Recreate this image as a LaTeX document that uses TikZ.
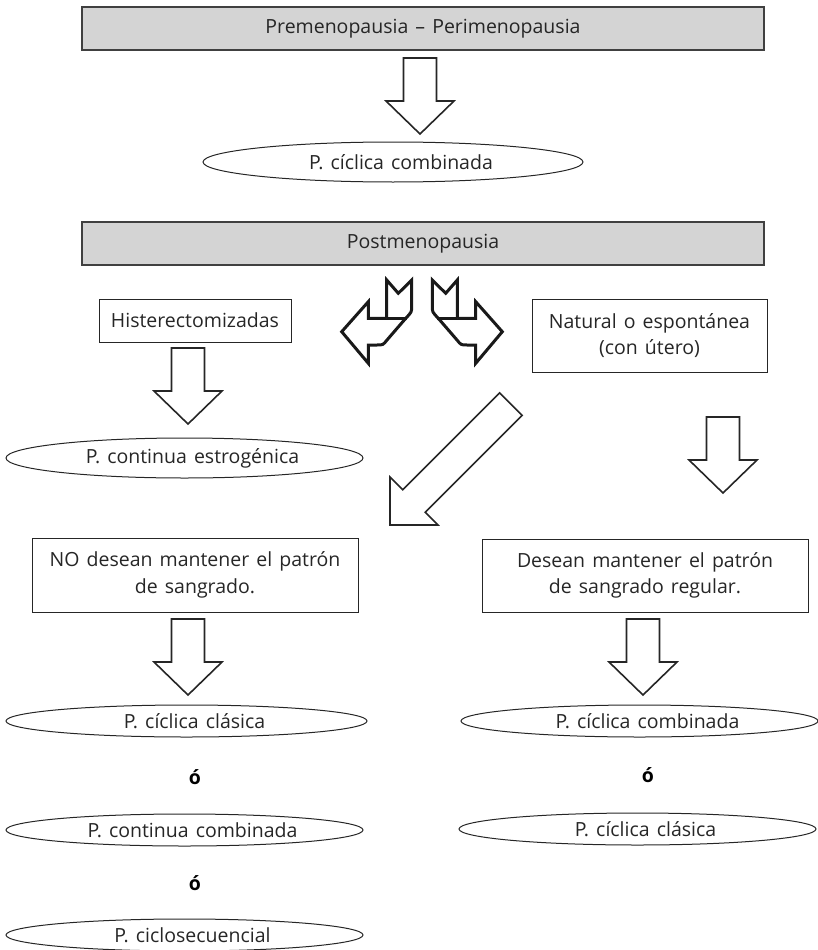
\documentclass[tikz,border=0pt]{standalone}
\usepackage{fontspec}
\setmainfont{Open Sans}[WordSpace=1.4]
\usetikzlibrary{shapes.geometric}
\tikzset{
	caja/.style={draw=black!85, line width=1pt, inner sep=0pt, text=black!85, font=\fontsize{19.5}{26.5}\selectfont},
	gris/.style={caja, fill=black!17, draw=black!75, line width=1.5pt, minimum width=682, minimum height=43},
	elipse/.style={ellipse, draw=black!85, line width=1pt, inner sep=0pt, text=black!85, font=\fontsize{19.5}{22}\selectfont, minimum width=357, minimum height=32, execute at begin node=\hspace*{16pt}},
	letra/.style={text=black, font=\fontsize{19.5}{22}\selectfont\bfseries},
	bloque/.style={draw=black!85, line width=1.6pt, fill=white, line join=miter},
	doblada/.style={draw=black!90, line width=3pt, fill=white, line join=miter},
	flecha/.pic={\draw[bloque] (-16.5,0) -- (16.5,0) -- (16.5,43) -- (34,43) -- (0,76) -- (-34,43) -- (-16.5,43) -- cycle;},
	giro/.pic={
		\draw[doblada] (386.7,280) -- (398.3,293.3) -- (411.7,280) -- (411.7,306)
			.. controls (411.7,312) .. (406,318) -- (387,340) .. controls (383,345) .. (377,345)
			-- (368.3,345) -- (368.3,363.3) -- (341.7,331.7) -- (368.3,301.7) -- (368.3,318.3)
			-- (386.7,318.3) -- cycle;
		\draw[doblada] (386.7,318.3) -- (407,318.3);}
}

\begin{document}
\begin{tikzpicture}[x=1pt,y=-1pt]
\useasboundingbox (0,0) rectangle (818,950);

% premenopausia
\node (pre) [gris] at (423,28.5) {Premenopausia – Perimenopausia};
\pic at (420,58) {flecha};
\node (ccomb) [elipse, minimum width=380, minimum height=40] at (393,162) {P. cíclica combinada};

% postmenopausia
\node (post) [gris] at (423,243.5) {Postmenopausia};
\pic at (0,0) {giro};
\pic[xscale=-1] at (844,0) {giro};

\node (hist) [caja, minimum width=192, minimum height=43] at (195,320.5) {Histerectomizadas};
\node (nat) [caja, minimum width=235, minimum height=73, align=center] at (649.5,335.5) {Natural o espontánea\\(con útero)};

\pic at (188,348) {flecha};
\node (cestr) [elipse, minimum height=40] at (184.5,458) {P. continua estrogénica};

% diagonal
\draw[bloque] (499.6,392.8) -- (522.2,415.4) -- (425.3,512.3) -- (438,525) -- (390,525)
	-- (390,477) -- (402.7,489.7) -- cycle;
\pic at (723,417) {flecha};

% no desean / desean
\node (no) [caja, minimum width=326, minimum height=74, align=center] at (195,575) {NO desean mantener el patrón\\de sangrado.};
\node (si) [caja, minimum width=326, minimum height=73, align=center] at (645,575.5) {Desean mantener el patrón\\de sangrado regular.};

\pic at (188,619) {flecha};
\pic at (643,619) {flecha};

% pautas izquierda
\node (cclas) [elipse, minimum width=361] at (186.5,721) {P. cíclica clásica};
\node (o1) [letra] at (195,777) {ó};
\node (ccont) [elipse] at (184.5,830) {P. continua combinada};
\node (o2) [letra] at (195,883) {ó};
\node (csec) [elipse] at (184.5,935) {P. ciclosecuencial};

% pautas derecha
\node (ccomb2) [elipse] at (639.5,721) {P. cíclica combinada};
\node (o3) [letra] at (648,775) {ó};
\node (cclas2) [elipse] at (637.5,829) {P. cíclica clásica};
\end{tikzpicture}
\end{document}
